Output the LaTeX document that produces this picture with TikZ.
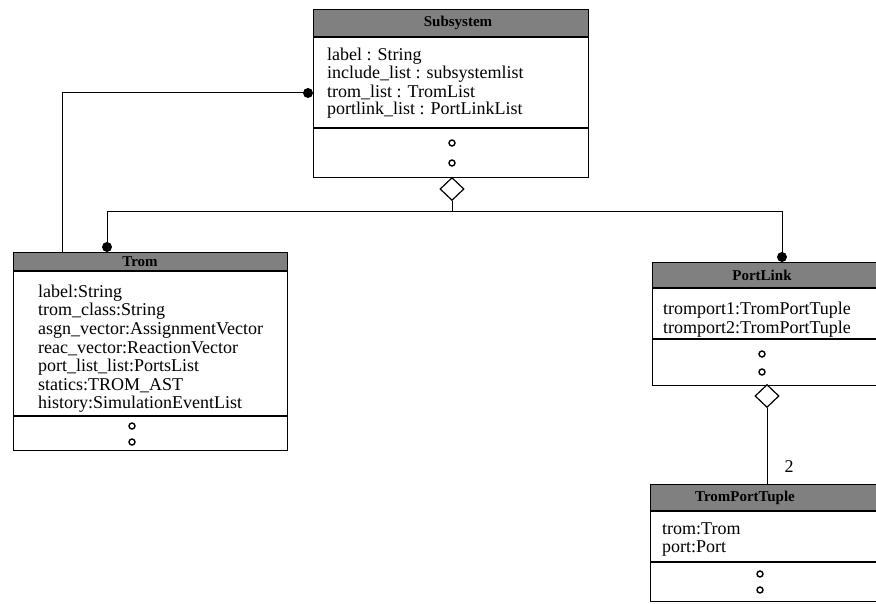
\documentclass[tikz,border=0pt]{standalone}
\usepackage{fontspec}
\setmainfont{Liberation Serif}
\usetikzlibrary{shapes.geometric}
\begin{document}
\begin{tikzpicture}[x=1pt,y=-1pt,
  classbox/.style={draw, line width=1.2pt, inner sep=0, anchor=north west},
  titlebar/.style={fill=black!50, inner sep=0, anchor=north west},
  titletext/.style={inner sep=0, font=\bfseries\fontsize{15}{15}\selectfont},
  attr/.style={anchor=west, inner sep=0, font=\fontsize{18}{18}\selectfont},
  barline/.style={line width=2pt},
  sep/.style={line width=1.6pt},
  ring/.style={line width=1.4pt},
  conn/.style={line width=1pt},
  agg/.style={diamond, draw, line width=1.2pt, fill=white, inner sep=0,
              minimum width=24pt, minimum height=23pt, aspect=1},
  joint/.style={circle, fill=black, inner sep=0, minimum size=10pt}
]
\useasboundingbox (0,0) rectangle (876,604);
\clip (0,0) rectangle (876,604);
\fill[white] (0,0) rectangle (876,604);

% ---------- Subsystem ----------
\node[titlebar, minimum width=275pt, minimum height=28pt] (subT) at (313,9) {};
\node[classbox, minimum width=275pt, minimum height=168pt] (sub) at (313,9) {};
\draw[barline] (subT.south west) -- (subT.south east);
\node[titletext] (subN) at (458,23) {Subsystem};
\node[attr] (subA1) at (327,56) {label : String};
\node[attr] (subA2) at (327,74) {include\_list : subsystemlist};
\node[attr] (subA3) at (327,92) {trom\_list : TromList};
\node[attr] (subA4) at (327,110) {portlink\_list : PortLinkList};
\draw[sep] (313,128) -- (588,128);
\draw[ring] (452,143) circle (3);
\draw[ring] (452,163) circle (3);

% ---------- Trom ----------
\node[titlebar, minimum width=274pt, minimum height=19pt] (tromT) at (13,252) {};
\node[classbox, minimum width=274pt, minimum height=198pt] (trom) at (13,252) {};
\draw[barline] (tromT.south west) -- (tromT.south east);
\node[titletext] (tromN) at (140,261.5) {Trom};
\node[attr] (tromA1) at (38,293) {label:String};
\node[attr] (tromA2) at (38,311.5) {trom\_class:String};
\node[attr] (tromA3) at (38,330) {asgn\_vector:AssignmentVector};
\node[attr] (tromA4) at (38,348.5) {reac\_vector:ReactionVector};
\node[attr] (tromA5) at (38,367) {port\_list\_list:PortsList};
\node[attr] (tromA6) at (38,385.5) {statics:TROM\_AST};
\node[attr] (tromA7) at (38,404) {history:SimulationEventList};
\draw[sep] (13,416) -- (287,416);
\draw[ring] (132,426) circle (3);
\draw[ring] (132,442) circle (3);

% ---------- PortLink ----------
\node[titlebar, minimum width=240pt, minimum height=26pt] (plT) at (652,262) {};
\node[classbox, minimum width=240pt, minimum height=123pt] (pl) at (652,262) {};
\draw[barline] (plT.south west) -- (plT.south east);
\node[titletext] (plN) at (762,275) {PortLink};
\node[attr] (plA1) at (663,310) {tromport1:TromPortTuple};
\node[attr] (plA2) at (663,329) {tromport2:TromPortTuple};
\draw[sep] (652,339) -- (892,339);
\draw[ring] (762,354) circle (3);
\draw[ring] (762,372) circle (3);

% ---------- TromPortTuple ----------
\node[titlebar, minimum width=240pt, minimum height=27pt] (tptT) at (650,484) {};
\node[classbox, minimum width=240pt, minimum height=117pt] (tpt) at (650,484) {};
\draw[barline] (tptT.south west) -- (tptT.south east);
\node[titletext] (tptN) at (745,497.5) {TromPortTuple};
\node[attr] (tptA1) at (662,529) {trom:Trom};
\node[attr] (tptA2) at (662,549) {port:Port};
\draw[sep] (650,562) -- (890,562);
\draw[ring] (760,574) circle (3);
\draw[ring] (760,590) circle (3);

% ---------- connectors ----------
\coordinate (tromJoin) at (62,252);
\coordinate (busL) at (107,212);
\coordinate (busR) at (782,212);

\node[joint] (dotSub) at (308,93) {};
\node[joint] (dotTrom) at (107,247) {};
\node[joint] (dotPL) at (782,257) {};

\draw[conn] (dotSub.center) -| (tromJoin);
\draw[conn] (dotTrom.center) -- (busL) -- (busR) -- (dotPL.center);

\node[agg] (subDia) at (452,189) {};
\draw[conn] (subDia.south) -- (subDia.south |- busL);

\node[agg] (plDia) at (767,396) {};
\draw[conn] (plDia.south) -- (plDia.south |- tpt.north);
\node[attr, anchor=center] (mult) at (789,467) {2};
\end{tikzpicture}
\end{document}
